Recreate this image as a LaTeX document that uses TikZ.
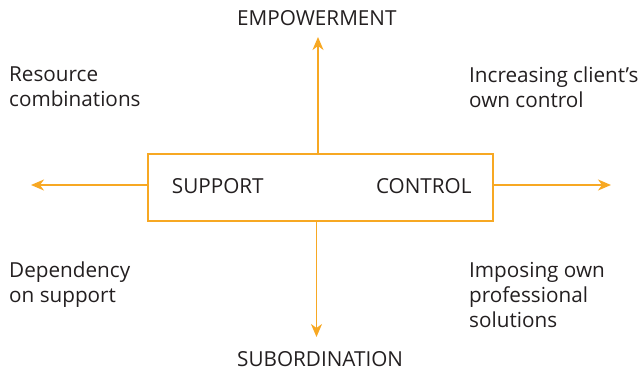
\documentclass[tikz,border=0pt]{standalone}
\usepackage{fontspec}
\setmainfont{Open Sans}
\usetikzlibrary{arrows.meta}
\definecolor{orng}{HTML}{F7A823}
\definecolor{txt}{HTML}{231F20}
\tikzset{
  lbl/.style={anchor=base west, inner sep=0pt, text=txt, font=\fontsize{20.7}{25}\selectfont},
  arr/.style={draw=orng, line width=1.5pt, -{Stealth[length=13pt, width=11pt, inset=4pt]}},
  mainbox/.style={draw=orng, line width=1.5pt, minimum width=345pt, minimum height=67pt, inner sep=0pt}
}
\begin{document}
\begin{tikzpicture}[x=1pt, y=-1pt]
\useasboundingbox (0,0) rectangle (642,372);
\node[mainbox] (box) at (320.5,187.5) {};
\coordinate (tN) at (318,37);
\coordinate (tS) at (316.5,337);
\coordinate (tW) at (31,185);
\coordinate (tE) at (611,185);
\draw[arr] (tN |- box.north) -- (tN);
\draw[arr] (tS |- box.south) -- (tS);
\draw[arr] (box.west |- tW) -- (tW);
\draw[arr] (box.east |- tE) -- (tE);
\node[lbl] (emp) at (237,25) {EMPOWERMENT};
\node[lbl] (sub) at (237,366.7) {SUBORDINATION};
\node[lbl] (sup) at (171.7,193.3) {SUPPORT};
\node[lbl, anchor=base east] (con) at (471.7,193.3) {CONTROL};
\node[lbl, align=left] (res) at (9,106.7) {Resource\\combinations};
\node[lbl, align=left] (inc) at (469,107) {Increasing client’s\\own control};
\node[lbl, align=left] (dep) at (9,302.5) {Dependency\\on support};
\node[lbl, align=left] (imp) at (469,327) {Imposing own\\professional\\solutions};
\end{tikzpicture}
\end{document}
